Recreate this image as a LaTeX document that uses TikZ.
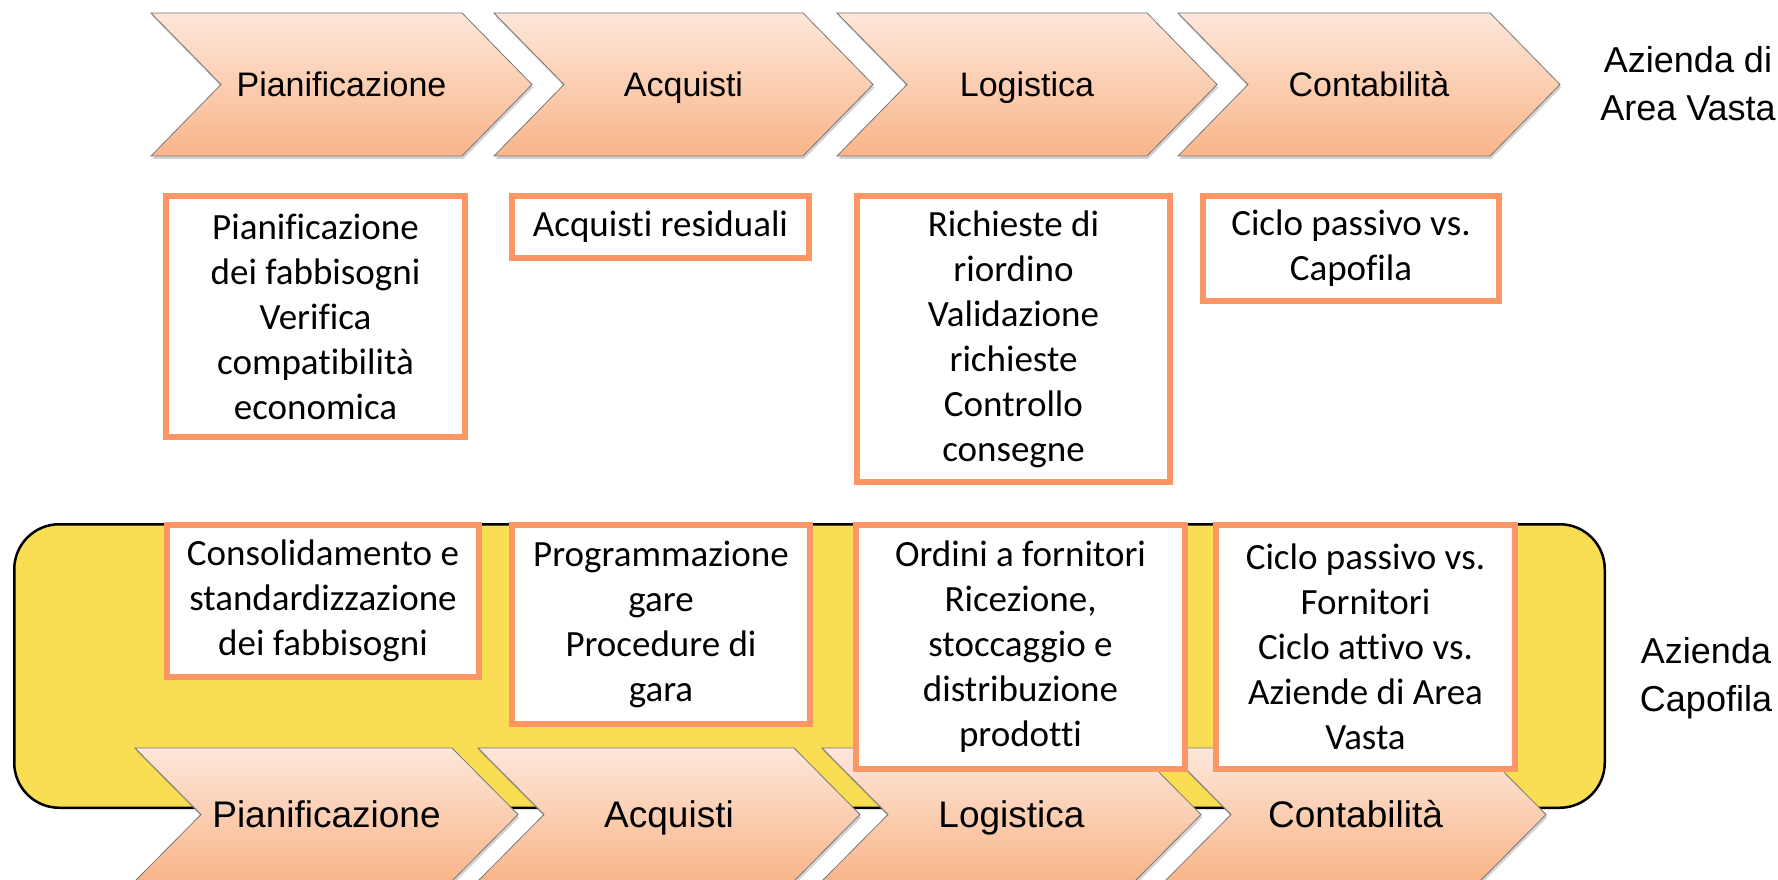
\documentclass[tikz,border=0pt]{standalone}
\usepackage{fontspec}
\setmainfont{Carlito}[Ligatures=NoCommon]
\newfontfamily\arialf{Liberation Sans}[Ligatures=NoCommon]
\usetikzlibrary{shadows}
\definecolor{chevtop}{RGB}{253,231,218}
\definecolor{chevbot}{RGB}{249,181,137}
\definecolor{chevline}{RGB}{120,120,120}
\definecolor{boxor}{RGB}{252,150,100}
\definecolor{bandyel}{RGB}{249,221,82}
\tikzset{
  chevshape/.style={draw=chevline, line width=0.8pt, top color=chevtop, bottom color=chevbot,
    drop shadow={opacity=0.35, shadow xshift=1.2pt, shadow yshift=-3pt}},
  chevlabel/.style={font=\arialf\fontsize{34}{40}\selectfont, inner sep=0pt, anchor=base},
  chevlabelb/.style={font=\arialf\fontsize{37}{44}\selectfont, inner sep=0pt, anchor=base},
  tbox/.style={draw=boxor, line width=6pt, fill=white, inner sep=0pt, align=center,
    font=\fontsize{37}{45}\selectfont},
  bandstyle/.style={draw=black, line width=2.5pt, fill=bandyel, rounded corners=45pt},
  sidelabel/.style={font=\arialf\fontsize{36}{48}\selectfont, align=center, inner sep=0pt}
}
\newcommand\mychev[5]{%
  \path[chevshape] (#1,#3) -- (#2,#3) -- ({#2+#5},{(#3+#4)/2}) -- (#2,#4) -- (#1,#4) -- ({#1+#5},{(#3+#4)/2}) -- cycle;}
\begin{document}
\begin{tikzpicture}[x=1pt,y=-1pt]
\fill[white] (0,0) rectangle (1778,880);
\useasboundingbox (0,0) rectangle (1778,880);
% yellow band
\path[bandstyle] (14.25,524.25) rectangle (1604.75,807.75);
% top chevrons
\mychev{151}{462}{13}{156}{70}
\mychev{494}{803}{13}{156}{70}
\mychev{837}{1147}{13}{156}{70}
\mychev{1178}{1490}{13}{156}{70}
\node[chevlabel] (tp) at (341.5,96.5) {Pianificazione};
\node[chevlabel] (ta) at (683.5,96.5) {Acquisti};
\node[chevlabel] (tl) at (1027,96.5) {Logistica};
\node[chevlabel] (tc) at (1369,96.5) {Contabilità};
\node[sidelabel] (avl) at (1688,84) {Azienda di\\Area Vasta};
% top boxes
\node[tbox, minimum width=299, minimum height=241] (ba) at (315.5,316.5) {Pianificazione\\dei fabbisogni\\Verifica\\compatibilità\\economica};
\node[tbox, minimum width=297, minimum height=62] (bb) at (660.5,227) {Acquisti residuali};
\node[tbox, minimum width=313, minimum height=286] (bc) at (1013.5,339) {Richieste di\\riordino\\Validazione\\richieste\\Controllo\\consegne};
\node[tbox, minimum width=296, minimum height=105] (bd) at (1351,248.5) {Ciclo passivo vs.\\Capofila};
% bottom chevrons
\mychev{135}{452}{748}{881}{66}
\mychev{478}{794}{748}{881}{66}
\mychev{822}{1135}{748}{881}{66}
\mychev{1165}{1480}{748}{881}{66}
\node[chevlabelb] (bp) at (326.5,827.5) {Pianificazione};
\node[chevlabelb] (bq) at (669,827.5) {Acquisti};
\node[chevlabelb] (bl) at (1011.5,827.5) {Logistica};
\node[chevlabelb] (bk) at (1355.5,827.5) {Contabilità};
\node[sidelabel] (cfl) at (1706,678) {Azienda\\Capofila};
% bottom boxes
\node[tbox, minimum width=312, minimum height=152] (be) at (323,601) {Consolidamento e\\standardizzazione\\dei fabbisogni};
\node[tbox, minimum width=298, minimum height=199] (bf) at (661,624.5) {Programmazione\\gare\\Procedure di\\gara};
\node[tbox, minimum width=329, minimum height=244] (bg) at (1020.5,647) {Ordini a fornitori\\Ricezione,\\stoccaggio e\\distribuzione\\prodotti};
\node[tbox, minimum width=299, minimum height=244] (bh) at (1365.5,647) {Ciclo passivo vs.\\Fornitori\\Ciclo attivo vs.\\Aziende di Area\\Vasta};
\end{tikzpicture}
\end{document}
